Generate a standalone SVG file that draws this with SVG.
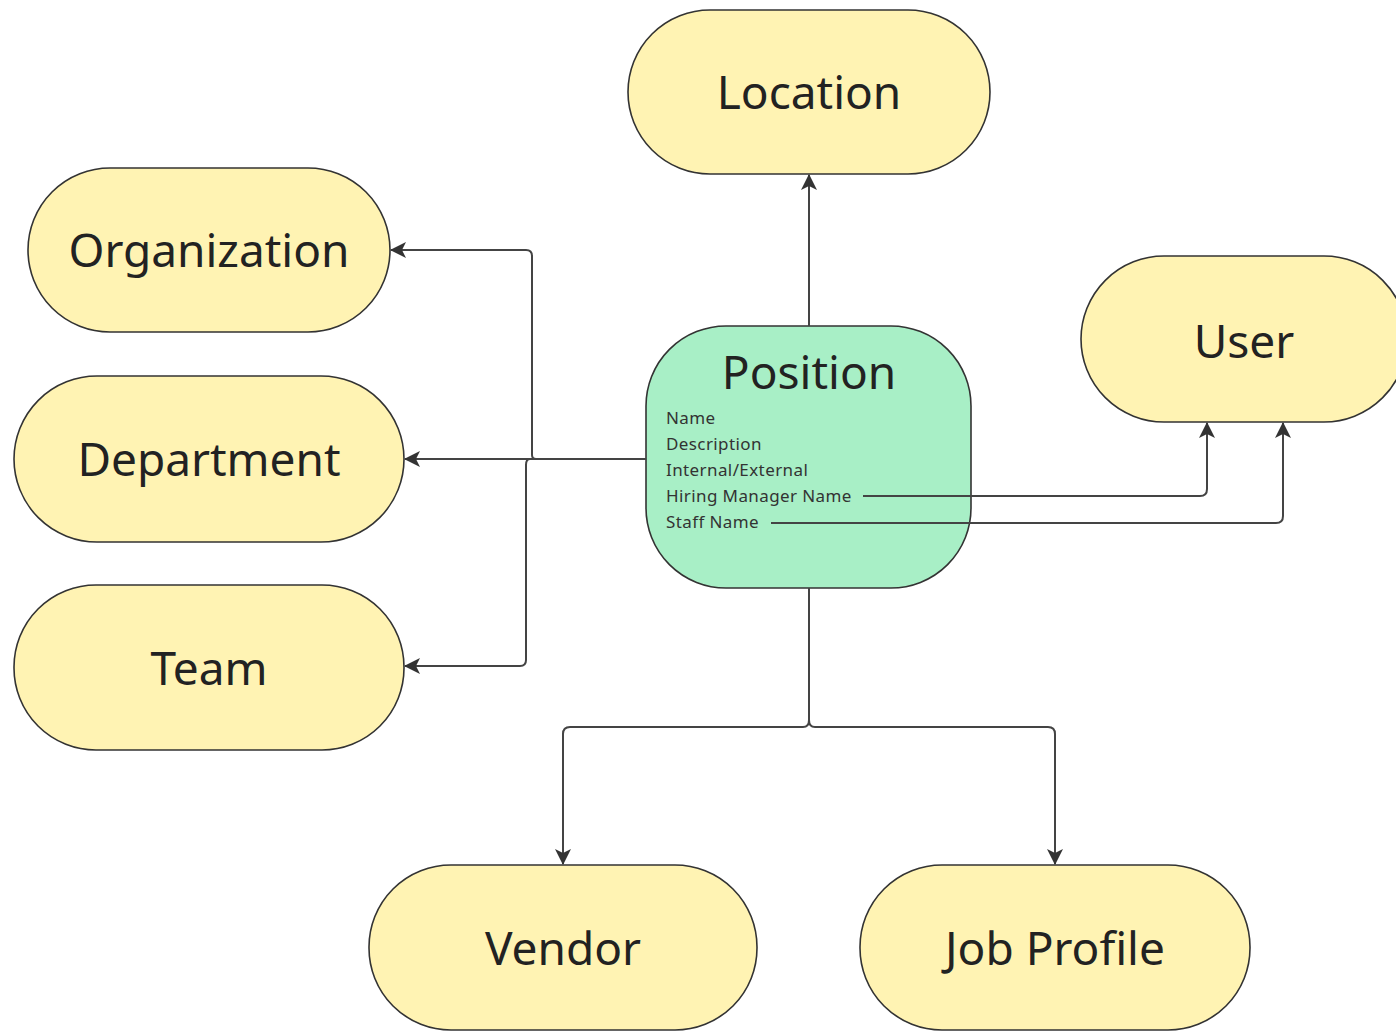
<svg xmlns="http://www.w3.org/2000/svg" width="1396" height="1031" viewBox="0 0 1396 1031">
<style>
.n{fill:#fff3b3;stroke:#333;stroke-width:1.6}
.p{fill:#a8efc6;stroke:#333;stroke-width:1.6}
.t{font-family:"Noto Sans","Open Sans",sans-serif;font-size:46px;fill:#222;text-anchor:middle}
.a{font-family:"Noto Sans","Open Sans",sans-serif;font-size:17px;letter-spacing:0.4px;fill:#333}
.c{fill:none;stroke:#444;stroke-width:2}
</style>
<defs>
<marker id="ah" viewBox="0 0 16 16" refX="15" refY="8" markerWidth="16" markerHeight="16" markerUnits="userSpaceOnUse" orient="auto">
<path d="M0,0 L16,8 L0,16 L4,8 Z" fill="#333"/>
</marker>
</defs>
<g id="location"><rect class="n" x="628" y="10" width="362" height="164" rx="82"/><text class="t" x="809" y="109">Location</text></g>
<g id="organization"><rect class="n" x="28" y="168" width="362" height="164" rx="82"/><text class="t" x="209" y="267">Organization</text></g>
<g id="department"><rect class="n" x="14" y="376" width="390" height="166" rx="83"/><text class="t" x="209" y="476">Department</text></g>
<g id="team"><rect class="n" x="14" y="585" width="390" height="165" rx="82"/><text class="t" x="209" y="685">Team</text></g>
<g id="user"><rect class="n" x="1081" y="256" width="326" height="166" rx="83"/><text class="t" x="1244" y="358">User</text></g>
<g id="vendor"><rect class="n" x="369" y="865" width="388" height="165" rx="82"/><text class="t" x="563" y="965">Vendor</text></g>
<g id="jobprofile"><rect class="n" x="860" y="865" width="390" height="165" rx="82"/><text class="t" x="1055" y="965">Job Profile</text></g>
<g id="position"><rect class="p" x="646" y="326" width="325" height="262" rx="80"/>
<text class="t" x="809" y="389">Position</text>
<text class="a" x="666" y="424">Name</text>
<text class="a" x="666" y="450">Description</text>
<text class="a" x="666" y="476">Internal/External</text>
<text class="a" x="666" y="502">Hiring Manager Name</text>
<text class="a" x="666" y="528">Staff Name</text>
</g>
<g id="connectors">
<path class="c" d="M809,326 V175" marker-end="url(#ah)"/>
<path class="c" d="M646,459 H405" marker-end="url(#ah)"/>
<path class="c" d="M646,459 H536 Q532,459 532,455 V256 Q532,250 526,250 H391" marker-end="url(#ah)"/>
<path class="c" d="M646,459 H530 Q526,459 526,465 V660 Q526,666 520,666 H405" marker-end="url(#ah)"/>
<path class="c" d="M863,496 H1200 Q1207,496 1207,489 V423" marker-end="url(#ah)"/>
<path class="c" d="M771,523 H1276 Q1283,523 1283,516 V423" marker-end="url(#ah)"/>
<path class="c" d="M809,588 V720 Q809,727 803,727 H570 Q563,727 563,734 V864" marker-end="url(#ah)"/>
<path class="c" d="M809,720 Q809,727 815,727 H1048 Q1055,727 1055,734 V864" marker-end="url(#ah)"/>
</g>
</svg>
